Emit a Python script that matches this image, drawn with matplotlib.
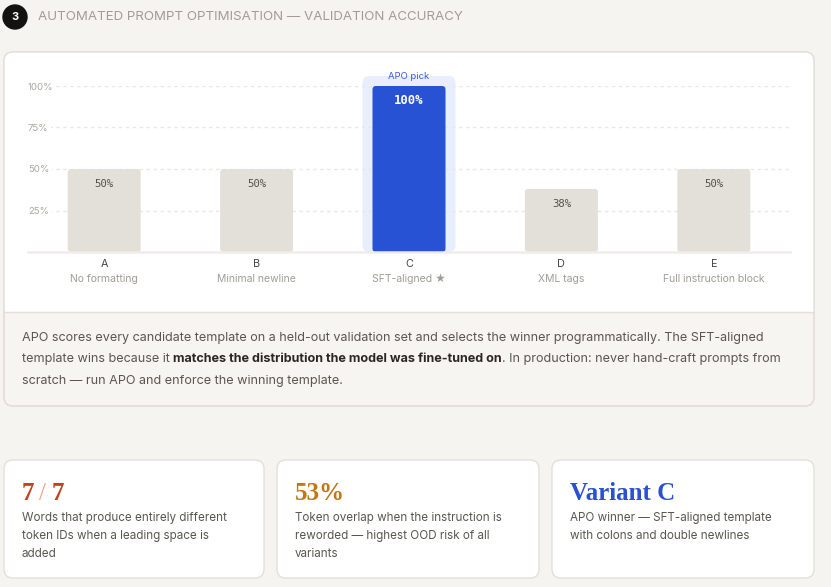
"""APO validation-accuracy panel: bar chart card, note, three stat cards."""

import matplotlib
matplotlib.use("Agg")
import matplotlib.pyplot as plt
from matplotlib.patches import FancyBboxPatch, Rectangle, Circle

# ---- data -------------------------------------------------------------
LETTERS = ["A", "B", "C", "D", "E"]
NAMES = ["No formatting", "Minimal newline", "SFT-aligned \u2605", "XML tags",
         "Full instruction block"]
ACCURACY = [50, 50, 100, 38, 50]
PICK = 2
YTICKS = [25, 50, 75, 100]

STAT_VALUES = ["7 / 7", "53%", "Variant C"]
STAT_TEXT = [
    "Words that produce entirely different\ntoken IDs when a leading space is\nadded",
    "Token overlap when the instruction is\nreworded \u2014 highest OOD risk of all\nvariants",
    "APO winner \u2014 SFT-aligned template\nwith colons and double newlines",
]

# ---- style ------------------------------------------------------------
BG = "#f6f4f0"
CARD = "#ffffff"
BORDER = "#e3e0da"
GREY_BAR = "#e3e0da"
BLUE = "#2752d4"
HILITE = "#e8eefb"
INK = "#2a2724"
BODY = "#5a5650"
MUTED = "#a19c96"
GRID = "#eae8e4"
STAT_COLORS = ["#c4411b", "#c27614", "#2b50d2"]

SANS = ["Inter", "DejaVu Sans"]
SERIF = ["Liberation Serif", "DejaVu Serif"]
MONO = ["DejaVu Sans Mono"]
plt.rcParams["font.family"] = SANS

W, H = 831, 587
fig = plt.figure(figsize=(W / 100, H / 100), dpi=100, facecolor=BG)

# page layer in pixel coordinates
page = fig.add_axes([0, 0, 1, 1], zorder=0)
page.set_xlim(0, W)
page.set_ylim(H, 0)
page.axis("off")


def card(x0, y0, x1, y1, face, r=9, edge=BORDER):
    p = FancyBboxPatch((x0, y0), x1 - x0, y1 - y0,
                       boxstyle=f"round,pad=0,rounding_size={r}",
                       facecolor=face, edgecolor=edge, linewidth=1)
    page.add_patch(p)
    return p


# header
page.add_patch(Circle((15, 17), 12, color="#141210"))
page.text(15, 17.5, "3", color="white", fontsize=8, fontweight="bold",
          ha="center", va="center")
page.text(38, 17.5, "AUTOMATED PROMPT OPTIMISATION \u2014 VALIDATION ACCURACY",
          color=MUTED, fontsize=9.6, ha="left", va="center")

# chart card: white top, tinted note section below
card(4, 52, 814, 406, "#f7f5f1")
card(4, 52, 814, 312, CARD, edge="none")
page.add_patch(Rectangle((4.5, 298), 809, 14, facecolor=CARD, edgecolor="none"))
page.plot([4, 814], [312, 312], color=BORDER, lw=1)
card(4, 52, 814, 406, "none")

# note text with a bold phrase on line 2
NOTE_FS = 9.08
page.text(22, 338, "APO scores every candidate template on a held-out validation set "
          "and selects the winner programmatically. The SFT-aligned",
          color=BODY, fontsize=NOTE_FS, va="center")
t1 = page.text(22, 359, "template wins because it ", color=BODY, fontsize=NOTE_FS,
               va="center")
t2 = page.annotate("matches the distribution the model was fine-tuned on",
                   xy=(1, 0), xycoords=t1, va="bottom", ha="left",
                   color=INK, fontsize=NOTE_FS, fontweight="bold")
page.annotate(". In production: never hand-craft prompts from", xy=(1, 0),
              xycoords=t2, va="bottom", ha="left", color=BODY, fontsize=NOTE_FS)
page.text(22, 381, "scratch \u2014 run APO and enforce the winning template.",
          color=BODY, fontsize=NOTE_FS, va="center")

# stat cards
for i, (x0, x1) in enumerate([(4, 264), (277, 539), (552, 814)]):
    card(x0, 460, x1, 578, CARD)
    tx = x0 + 18
    if i == 0:
        a = page.text(tx, 500, "7", color=STAT_COLORS[0], fontsize=18,
                      fontweight="bold", family=SERIF, va="baseline")
        b = page.annotate("\u2009/\u2009", xy=(1, 0), xycoords=a, va="bottom",
                          color="#e6a48a", fontsize=18, family=SERIF)
        page.annotate("7", xy=(1, 0), xycoords=b, va="bottom",
                      color=STAT_COLORS[0], fontsize=18, fontweight="bold",
                      family=SERIF)
    else:
        page.text(tx, 500, STAT_VALUES[i], color=STAT_COLORS[i], fontsize=18,
                  fontweight="bold", family=SERIF, va="baseline")
    for k, line in enumerate(STAT_TEXT[i].split("\n")):
        page.text(tx, 518 + 18 * k, line, color=BODY, fontsize=8.4, va="center")

# ---- bar chart --------------------------------------------------------
L, R, BASE, TOP = 28, 790, 252, 86
ax = fig.add_axes([L / W, 1 - BASE / H, (R - L) / W, (BASE - TOP) / H], zorder=2)
ax.patch.set_alpha(0)
ax.set_xlim(-0.5, len(LETTERS) - 0.5)
ax.set_ylim(0, 100)
for s in ["top", "right", "left"]:
    ax.spines[s].set_visible(False)
ax.spines["bottom"].set_color("#efede9")
ax.spines["bottom"].set_linewidth(1.8)

ax.set_yticks(YTICKS, [f"{v}%" for v in YTICKS])
ax.yaxis.grid(True, color=GRID, linewidth=1, linestyle=(0, (2.5, 2.5)))
ax.tick_params(axis="y", length=0, pad=0, labelsize=6.9, labelcolor="#aaa59f")
for lab in ax.get_yticklabels():
    lab.set_horizontalalignment("left")
    lab.set_bbox(dict(facecolor=CARD, edgecolor="none", pad=2))

ax.set_xticks(range(len(LETTERS)), LETTERS)
ax.tick_params(axis="x", length=0, pad=5.2, labelsize=7.8, labelcolor="#4a4642")

# rounded corners in data units
px_x = (R - L) / len(LETTERS)
px_y = (BASE - TOP) / 100
aspect = px_x / px_y


def rounded(x0, y0, w, h, rpx, color, z):
    p = FancyBboxPatch((x0, y0), w, h,
                       boxstyle=f"round,pad=0,rounding_size={rpx / px_x}",
                       mutation_aspect=aspect, facecolor=color,
                       edgecolor="none", zorder=z, clip_on=False)
    ax.add_patch(p)


hw = 93 / px_x
rounded(PICK - hw / 2, 0, hw, 106, 7, HILITE, 1)
ax.annotate("APO pick", xy=(PICK, 106), ha="center", va="center",
            color="#3a5bd9", fontsize=6.8, annotation_clip=False)

bars = ax.bar(range(len(LETTERS)), ACCURACY, width=73 / px_x)
for i, (rect, v) in enumerate(zip(bars, ACCURACY)):
    rect.set_visible(False)
    color = BLUE if i == PICK else GREY_BAR
    rounded(rect.get_x(), 0, rect.get_width(), rect.get_height(), 3.5, color, 2)
    ax.annotate(f"{v}%", xy=(i, v), xytext=(0, -10.5), textcoords="offset points",
                ha="center", va="center", family=MONO,
                fontsize=8.8 if i == PICK else 7.7,
                fontweight="bold" if i == PICK else "normal",
                color="white" if i == PICK else "#55514c", zorder=3)
    ax.annotate(NAMES[i], xy=(i, 0), xycoords=("data", "axes fraction"),
                xytext=(0, -19.4), textcoords="offset points", ha="center",
                va="center", fontsize=7.5, color=MUTED)

fig.savefig("out.png", dpi=100, facecolor=BG)
